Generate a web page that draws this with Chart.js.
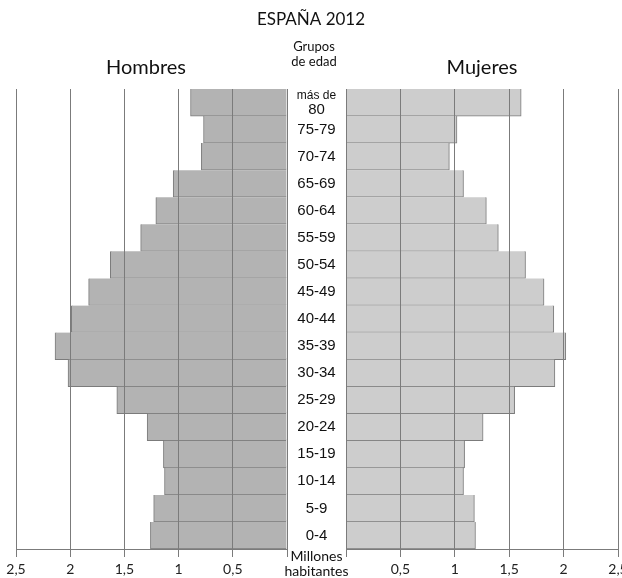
<!DOCTYPE html>
<html>
<head>
<meta charset="utf-8">
<script src="https://cdn.jsdelivr.net/npm/chart.js@4"></script>
<style>
  body { margin: 0; background: #fff; }
  #wrap { position: relative; width: 622px; height: 578px; }
  canvas { position: absolute; left: 0; top: 0; }
</style>
</head>
<body>
<div id="wrap">
  <canvas id="chartHombres" width="622" height="578"></canvas>
  <canvas id="chartMujeres" width="622" height="578"></canvas>
</div>
<script>
let gruposEdad = ["más de 80", "75-79", "70-74", "65-69", "60-64", "55-59", "50-54", "45-49", "40-44",
                  "35-39", "30-34", "25-29", "20-24", "15-19", "10-14", "5-9", "0-4"];
// millones de habitantes
let hombres = [0.89, 0.77, 0.79, 1.05, 1.21, 1.35, 1.63, 1.83, 1.99, 2.14, 2.02, 1.57, 1.29, 1.14, 1.13, 1.23, 1.26];
let mujeres = [1.61, 1.02, 0.95, 1.08, 1.29, 1.40, 1.65, 1.82, 1.91, 2.02, 1.92, 1.55, 1.26, 1.09, 1.08, 1.18, 1.19];

let colorHombres = '#b3b3b3';
let colorMujeres = '#cdcdcd';
let colorLinea = '#7b7b7b';
let fuente = "'Lato', 'Noto Sans', sans-serif";

function ejeX(invertido) {
    return {
        type: 'linear',
        min: 0,
        max: 2.5,
        reverse: invertido,
        ticks: {
            stepSize: 0.5,
            padding: 4,
            color: '#222',
            font: { family: fuente, size: 14 },
            maxRotation: 0,
            callback: function (v) { return v === 0 ? '' : String(v).replace('.', ','); }
        },
        grid: { z: 1, color: colorLinea, lineWidth: 1, tickLength: 8, tickColor: colorLinea },
        border: { z: 1, display: true, color: colorLinea, width: 1 },
        afterFit: function (scale) {
            scale.height = 29;
            scale.paddingLeft = 0;
            scale.paddingRight = 0;
        }
    };
}

let ejeY = { type: 'category', display: false };

let textos = {
    id: 'textos',
    afterDraw: function (chart) {
        let ctx = chart.ctx;
        let y = chart.scales.y;
        let cx = 316.5;
        ctx.save();
        ctx.fillStyle = '#111';
        ctx.textAlign = 'center';
        ctx.textBaseline = 'middle';
        ctx.font = "17px " + fuente;
        ctx.fillText('ESPAÑA 2012', 311, 20);
        ctx.font = "20px " + fuente;
        ctx.fillText('Hombres', 146, 68);
        ctx.fillText('Mujeres', 482, 68);
        ctx.font = "13px " + fuente;
        ctx.fillText('Grupos', 314, 47);
        ctx.fillText('de edad', 314, 62);
        gruposEdad.forEach(function (g, i) {
            let py = y.getPixelForValue(i);
            if (i === 0) {
                ctx.font = "12px 'Liberation Sans', Arial, sans-serif";
                ctx.fillText('más de', cx, py - 7);
                ctx.font = "15px 'Liberation Sans', Arial, sans-serif";
                ctx.fillText('80', cx, py + 7);
            } else {
                ctx.font = "15px 'Liberation Sans', Arial, sans-serif";
                ctx.fillText(g, cx, py);
            }
        });
        ctx.font = "14px " + fuente;
        ctx.fillText('Millones', cx, 556);
        ctx.fillText('habitantes', cx, 571);
        ctx.restore();
    }
};

new Chart(document.getElementById('chartHombres').getContext('2d'), {
    type: 'bar',
    data: {
        labels: gruposEdad,
        datasets: [{
            data: hombres,
            backgroundColor: colorHombres,
            borderColor: colorLinea,
            borderWidth: { top: 0, bottom: 1, left: 1, right: 0 },
            borderSkipped: false,
            barPercentage: 1,
            categoryPercentage: 1
        }]
    },
    options: {
        indexAxis: 'y',
        responsive: false,
        animation: false,
        layout: { padding: { left: 16, right: 335, top: 89, bottom: 0 } },
        plugins: { legend: { display: false }, tooltip: { enabled: false } },
        scales: { x: ejeX(true), y: ejeY }
    }
});

new Chart(document.getElementById('chartMujeres').getContext('2d'), {
    type: 'bar',
    data: {
        labels: gruposEdad,
        datasets: [{
            data: mujeres,
            backgroundColor: colorMujeres,
            borderColor: colorLinea,
            borderWidth: { top: 0, bottom: 1, left: 0, right: 1 },
            borderSkipped: false,
            barPercentage: 1,
            categoryPercentage: 1
        }]
    },
    options: {
        indexAxis: 'y',
        responsive: false,
        animation: false,
        layout: { padding: { left: 346, right: 4, top: 89, bottom: 0 } },
        plugins: { legend: { display: false }, tooltip: { enabled: false } },
        scales: { x: ejeX(false), y: ejeY }
    },
    plugins: [textos]
});
</script>
</body>
</html>
